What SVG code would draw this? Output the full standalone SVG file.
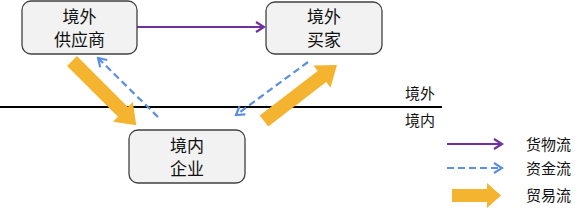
<svg xmlns="http://www.w3.org/2000/svg" width="588" height="210" viewBox="0 0 588 210">
<style>
.box{fill:#F2F2F2;stroke:#404040;stroke-width:1.3}
.t{font-family:"Noto Sans CJK SC","Noto Sans CJK JP",sans-serif;font-size:17px;fill:#111;text-anchor:middle}
.s{font-family:"Noto Sans CJK SC","Noto Sans CJK JP",sans-serif;font-size:15px;fill:#111}
.goods{stroke:#7030A0;stroke-width:2.2;fill:none}
.money{stroke:#5B8FE0;stroke-width:2.2;fill:none;stroke-dasharray:7,4}
.trade{fill:#F4B430}
</style>
<defs>
<marker id="mp" viewBox="0 0 12 12" refX="10" refY="6" markerWidth="12" markerHeight="12" markerUnits="userSpaceOnUse" orient="auto">
<path d="M2,1 L10,6 L2,11" fill="none" stroke="#7030A0" stroke-width="2.2"/>
</marker>
<marker id="mb" viewBox="0 0 12 12" refX="10" refY="6" markerWidth="12" markerHeight="12" markerUnits="userSpaceOnUse" orient="auto">
<path d="M2,1 L10,6 L2,11" fill="none" stroke="#5B8FE0" stroke-width="2.2"/>
</marker>
</defs>
<g id="connectors">
<line x1="0" y1="107" x2="442" y2="107" stroke="#000" stroke-width="2.2"/>
<line class="goods" x1="137" y1="27" x2="264" y2="27" marker-end="url(#mp)"/>
<line class="money" x1="158" y1="117" x2="98" y2="58" marker-end="url(#mb)"/>
<line class="money" x1="308" y1="62" x2="236" y2="115" marker-end="url(#mb)"/>
<polygon class="trade" transform="translate(72,61) rotate(45)" points="0,-7 72,-7 72,-14 91,0 72,14 72,7 0,7"/>
<polygon class="trade" transform="translate(264,121) rotate(-37.5)" points="0,-7 73,-7 73,-14 92,0 73,14 73,7 0,7"/>
</g>
<g id="supplier">
<rect class="box" x="22" y="1" width="115" height="53" rx="9"/>
<text class="t" x="79.5" y="23">境外</text>
<text class="t" x="79.5" y="46">供应商</text>
</g>
<g id="buyer">
<rect class="box" x="266" y="2" width="116" height="52" rx="9"/>
<text class="t" x="324" y="23">境外</text>
<text class="t" x="324" y="46">买家</text>
</g>
<g id="enterprise">
<rect class="box" x="129" y="130" width="116" height="53" rx="9"/>
<text class="t" x="187" y="152">境内</text>
<text class="t" x="187" y="175">企业</text>
</g>
<g id="region-labels">
<text class="s" x="405" y="99">境外</text>
<text class="s" x="405" y="126">境内</text>
</g>
<g id="legend">
<line class="goods" x1="447" y1="144" x2="502" y2="144" marker-end="url(#mp)"/>
<line class="money" x1="447" y1="168" x2="502" y2="168" marker-end="url(#mb)"/>
<polygon class="trade" points="452,189 487,189 487,183 501,195.5 487,208 487,202 452,202"/>
<text class="s" x="526" y="150">货物流</text>
<text class="s" x="526" y="174">资金流</text>
<text class="s" x="526" y="201">贸易流</text>
</g>
</svg>
